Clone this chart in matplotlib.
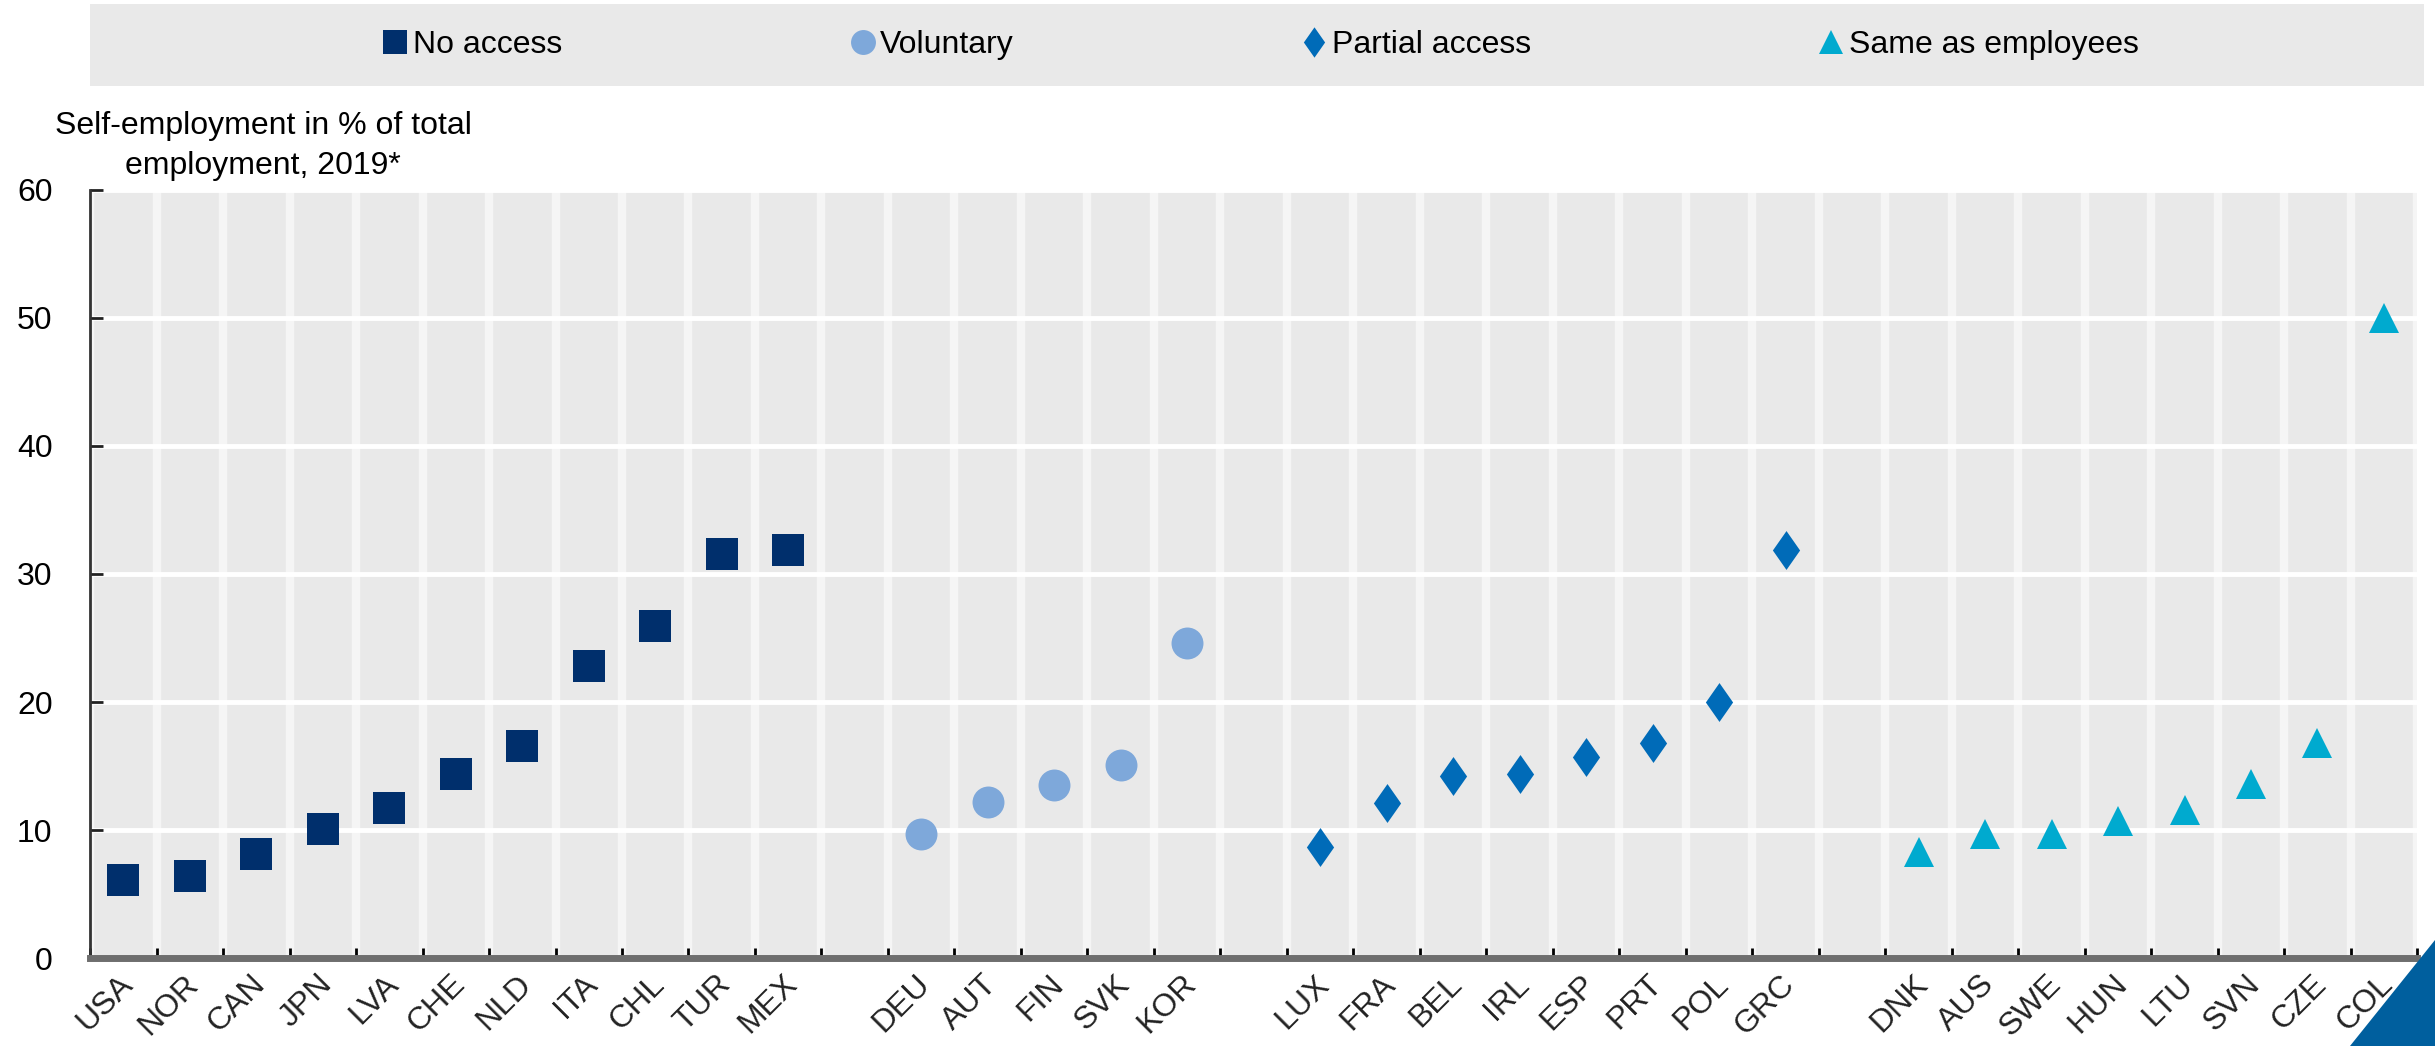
import numpy as np
import matplotlib
matplotlib.use("Agg")
import matplotlib.pyplot as plt
import matplotlib.transforms as mtransforms
from matplotlib.patches import Rectangle, Polygon
from matplotlib.lines import Line2D

plt.rcParams['font.family'] = ['Liberation Sans', 'DejaVu Sans']

# self-employment in % of total employment, 2019, by access group
no_access = ['USA', 'NOR', 'CAN', 'JPN', 'LVA', 'CHE', 'NLD', 'ITA', 'CHL', 'TUR', 'MEX']
no_access_val = [6.1, 6.4, 8.1, 10.1, 11.7, 14.4, 16.6, 22.8, 25.9, 31.6, 31.9]

voluntary = ['DEU', 'AUT', 'FIN', 'SVK', 'KOR']
voluntary_val = [9.7, 12.2, 13.5, 15.1, 24.6]

partial = ['LUX', 'FRA', 'BEL', 'IRL', 'ESP', 'PRT', 'POL', 'GRC']
partial_val = [8.7, 12.1, 14.2, 14.4, 15.7, 16.8, 20.0, 31.9]

same = ['DNK', 'AUS', 'SWE', 'HUN', 'LTU', 'SVN', 'CZE', 'COL']
same_val = [8.3, 9.7, 9.7, 10.7, 11.6, 13.6, 16.8, 50.0]

# slightly narrow diamond
diamond = [(0, 1), (0.7, 0), (0, -1), (-0.7, 0), (0, 1)]

groups = [
    ('No access', no_access, no_access_val, 's', '#002F6C', 23),
    ('Voluntary', voluntary, voluntary_val, 'o', '#7EA8DA', 23),
    ('Partial access', partial, partial_val, diamond, '#006BB8', 28),
    ('Same as employees', same, same_val, '^', '#00AACF', 22),
]

fig = plt.figure(figsize=(24.35, 10.46), dpi=100)
ax = fig.add_axes([0.037, 0.0841, 0.9557, 0.7343])
ax.set_facecolor('#E9E9E9')

# one empty slot between groups
labels = []
positions = []
start = 0
handles = []
for name, codes, vals, mk, col, ms in groups:
    x = np.arange(start, start + len(codes))
    ax.plot(x, vals, linestyle='none', marker=mk, color=col, markersize=ms,
            markeredgewidth=0, zorder=3)
    handles.append(Line2D([], [], linestyle='none', marker=mk, color=col,
                          markersize=ms * 0.78, markeredgewidth=0))
    labels += codes
    positions += list(x)
    start += len(codes) + 1

nslots = start - 1
ax.set_xlim(-0.5, nslots - 0.5)
ax.set_ylim(0, 60)

ax.set_xticks(positions)
ax.set_xticklabels(labels, rotation=45, ha='right', va='top',
                   rotation_mode='anchor', fontsize=23, color='#222222')
ax.tick_params(axis='x', which='major', length=0, pad=8)
ax.set_xticks(np.arange(-0.5, nslots), minor=True)
ax.tick_params(axis='x', which='minor', direction='in', length=7, width=2,
               color='black')

ax.set_yticks(np.arange(0, 61, 10))
ax.tick_params(axis='y', direction='in', length=9, width=2, color='#222222',
               labelsize=23, pad=27)

ax.grid(axis='x', which='minor', color='#F5F5F5', linewidth=6, zorder=1)
ax.grid(axis='y', which='major', color='white', linewidth=3.5, zorder=1)
ax.set_axisbelow(True)

for s in ['top', 'right']:
    ax.spines[s].set_visible(False)
ax.spines['left'].set_color('#333333')
ax.spines['left'].set_linewidth(2)
ax.spines['bottom'].set_color('#6E6E6E')
ax.spines['bottom'].set_linewidth(5)

# shift rotated labels a little left of the tick
offset = mtransforms.ScaledTranslation(-6 / 100, 0, fig.dpi_scale_trans)
for lab in ax.get_xticklabels():
    lab.set_transform(lab.get_transform() + offset)

fig.text(263 / 2435, 1 - 146 / 1046,
         'Self-employment in % of total\nemployment, 2019*',
         ha='center', va='center', fontsize=23, linespacing=1.45)

# legend band
fig.patches.append(Rectangle((90 / 2435, 1 - 86 / 1046), 2334 / 2435, 82 / 1046,
                             transform=fig.transFigure, facecolor='#E9E9E9',
                             edgecolor='none', zorder=0))
fig.legend(handles, [g[0] for g in groups], loc='center',
           bbox_to_anchor=(0.5177, 1 - 45 / 1046), ncol=4, frameon=False,
           fontsize=23, handlelength=0.8, handletextpad=0.15,
           columnspacing=9.0)

# corner mark
fig.patches.append(Polygon([(2350 / 2435, 0), (1, 0), (1, 106 / 1046)],
                           closed=True, transform=fig.transFigure,
                           facecolor='#005F9E', edgecolor='none', zorder=5))

fig.savefig('out.png', dpi=100)
